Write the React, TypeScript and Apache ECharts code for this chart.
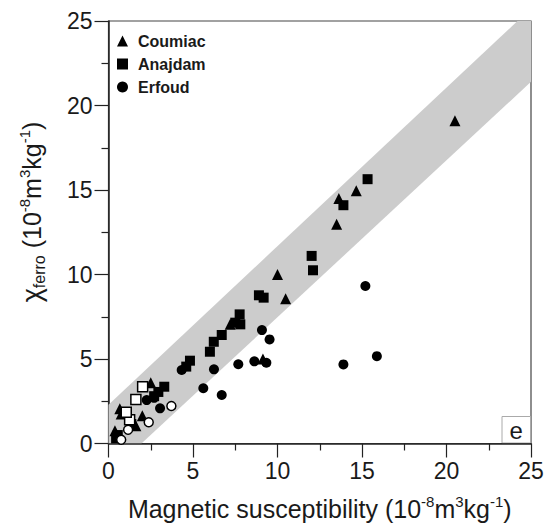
import React, { useEffect, useRef } from "react";
import * as echarts from "echarts";

// Magnetic susceptibility (x) vs chi_ferro (y), 10^-8 m3/kg
const coumiac: number[][] = [
  [20.5, 19.1], [14.66, 14.95], [13.63, 14.5], [13.5, 12.97], [10.0, 10.0],
  [10.48, 8.57], [7.2, 7.05], [9.14, 5.0], [2.5, 3.6], [2.0, 1.64],
  [1.62, 1.05], [0.67, 2.05], [0.75, 1.75], [0.38, 0.75],
];
const anajdam: number[][] = [
  [15.33, 15.64], [13.9, 14.1], [12.02, 11.1], [12.1, 10.25], [8.9, 8.77],
  [9.18, 8.63], [7.76, 7.64], [7.8, 7.05], [7.5, 7.15], [6.7, 6.42],
  [6.23, 6.02], [6.0, 5.43], [4.82, 4.9], [4.6, 4.55], [3.3, 3.36],
  [2.95, 3.05], [2.7, 2.8], [1.35, 1.15], [0.55, 0.5], [0.45, 0.3],
];
const anajdamOpen: number[][] = [[2.02, 3.36], [1.62, 2.6], [1.25, 1.4], [1.05, 1.85]];
const erfoud: number[][] = [
  [15.2, 9.32], [15.88, 5.17], [13.9, 4.68], [9.08, 6.71], [9.53, 6.16],
  [8.63, 4.86], [9.34, 4.78], [7.68, 4.69], [6.24, 4.39], [5.61, 3.27],
  [6.7, 2.87], [4.33, 4.35], [3.05, 2.08], [2.26, 2.57], [2.7, 2.7],
];
const erfoudOpen: number[][] = [[3.72, 2.22], [2.38, 1.26], [1.16, 0.81], [0.75, 0.22]];
// grey band outline (polygon vertices in data units)
const bandPoints: number[][] = [[0, 0], [0, 2.3], [24.2, 25], [25, 25], [25, 21.4], [1.95, 0]];
const legendNames = ["Coumiac", "Anajdam", "Erfoud"];
const xTitle = "Magnetic susceptibility (10{sup|-8}m{sup|3}kg{sup|-1})";
const yTitle = "{chi|χ}{sub|ferro} (10{sup|-8}m{sup|3}kg{sup|-1})";

const FONT = "'Liberation Sans', Arial, sans-serif";
const TXT = "#1a1a1a";

export default function App() {
  const ref = useRef<HTMLDivElement>(null);
  useEffect(() => {
    if (!ref.current) return;
    const chart = echarts.init(ref.current, undefined, { renderer: "svg" });
    const supStyle = { fontSize: 15, verticalAlign: "top" as const, fontFamily: FONT, color: TXT, fill: TXT, lineHeight: 15 };
    const axisCommon = {
      min: 0,
      max: 25,
      interval: 5,
      axisLine: { show: true, onZero: false, lineStyle: { color: "#222", width: 1.5 } },
      axisTick: { show: true, inside: false, length: 14, lineStyle: { color: "#222", width: 1.2 } },
      minorTick: { show: true, splitNumber: 2, length: 7, lineStyle: { color: "#222", width: 1.2 } },
      splitLine: { show: false },
      axisLabel: { fontSize: 23, color: TXT, fontFamily: FONT, margin: 16 },
      nameLocation: "middle" as const,
    };
    const scatterBase = {
      type: "scatter" as const,
      symbolSize: 10,
      itemStyle: { color: "#000", opacity: 1 },
      z: 3,
    };
    chart.setOption({
      animation: false,
      backgroundColor: "#fff",
      grid: {
        left: 108.5, top: 21, right: 17, bottom: 86.5,
        show: true, borderColor: "#444", borderWidth: 1.2, backgroundColor: "transparent",
      },
      legend: {
        data: legendNames,
        orient: "vertical",
        left: 112,
        top: 28,
        itemWidth: 11,
        itemHeight: 11,
        itemGap: 7,
        textStyle: { fontSize: 16, fontWeight: "bold", color: TXT, fontFamily: FONT, lineHeight: 16, padding: [0, 0, 0, 5] },
      },
      xAxis: {
        ...axisCommon,
        type: "value",
        name: xTitle,
        nameGap: 50,
        nameTextStyle: { fontSize: 25, color: TXT, fontFamily: FONT, lineHeight: 30, rich: { sup: supStyle } },
      },
      yAxis: {
        ...axisCommon,
        type: "value",
      },
      series: [
        {
          type: "custom",
          name: "band",
          silent: true,
          z: 1,
          clip: true,
          data: [[0, 0]],
          renderItem: (_params: any, api: any) => ({
            type: "polygon",
            shape: { points: bandPoints.map((p) => api.coord(p)) },
            style: { fill: "#cccccc", stroke: "none" },
          }),
        },
        { ...scatterBase, name: "Coumiac", symbol: "triangle", symbolSize: 11, data: coumiac },
        { ...scatterBase, name: "Anajdam", symbol: "rect", symbolSize: 10, data: anajdam },
        { ...scatterBase, name: "Erfoud", symbol: "circle", symbolSize: 10, data: erfoud },
        {
          ...scatterBase, name: "Anajdam open", symbol: "rect", symbolSize: 10, data: anajdamOpen,
          itemStyle: { color: "#fff", borderColor: "#000", borderWidth: 1.5, opacity: 1 }, z: 4,
        },
        {
          ...scatterBase, name: "Erfoud open", symbol: "circle", symbolSize: 9, data: erfoudOpen,
          itemStyle: { color: "#fff", borderColor: "#000", borderWidth: 1.5, opacity: 1 }, z: 4,
        },
      ],
      graphic: [
        {
          type: "text",
          x: 32,
          y: 212,
          rotation: Math.PI / 2,
          style: {
            text: yTitle,
            fontSize: 25,
            fontFamily: FONT,
            fill: TXT,
            align: "center",
            verticalAlign: "middle",
            lineHeight: 30,
            rich: {
              sup: supStyle,
              chi: { fontSize: 27, fontFamily: FONT, fill: TXT, lineHeight: 30 },
              sub: { fontSize: 16, verticalAlign: "bottom", fontFamily: FONT, fill: TXT, lineHeight: 16 },
            },
          },
        },
        {
          type: "group",
          right: 17,
          bottom: 86.5,
          children: [
            { type: "rect", shape: { x: 0, y: 0, width: 28.5, height: 26.5 }, style: { fill: "#fff", stroke: "#aaa", lineWidth: 1 } },
            {
              type: "text", x: 14.25, y: 14,
              style: { text: "e", fontSize: 24, fontFamily: FONT, fill: TXT, align: "center", verticalAlign: "middle" },
            },
          ],
        },
      ],
    });
    return () => chart.dispose();
  }, []);
  return <div ref={ref} style={{ position: "fixed", left: 0, top: 0, width: 548, height: 530 }} />;
}
